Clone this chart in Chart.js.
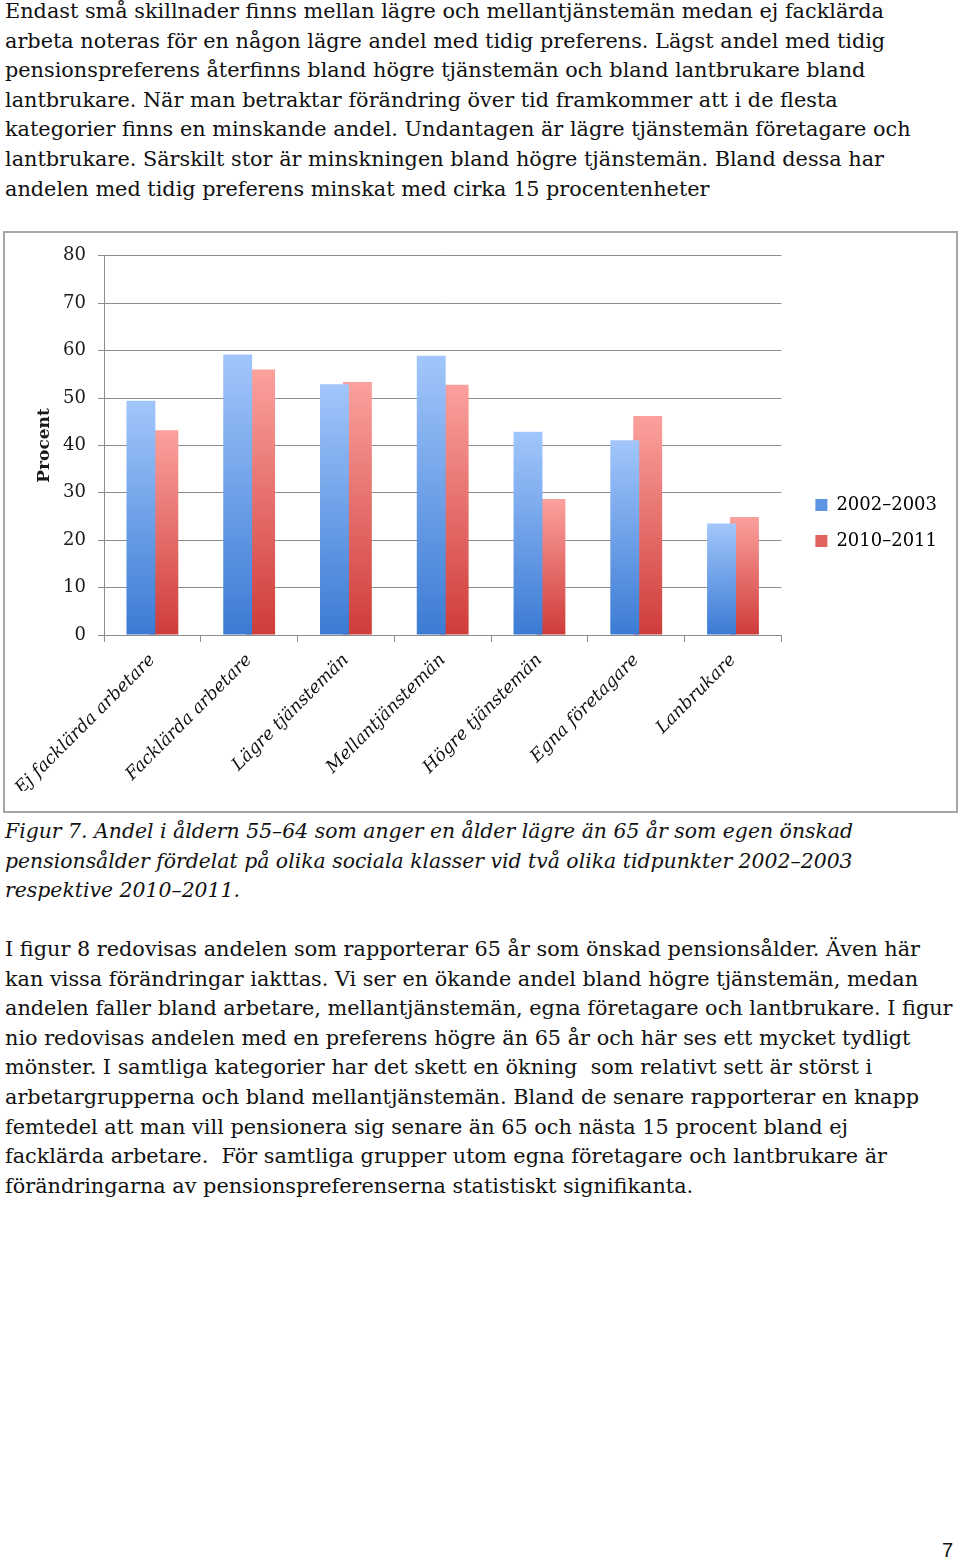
<!DOCTYPE html>
<html lang="sv">
<head>
<meta charset="utf-8">
<script src="https://cdn.jsdelivr.net/npm/chart.js@4"></script>
<style>
  html, body { margin: 0; padding: 0; background: #fff; }
  body { width: 960px; height: 1561px; position: relative; overflow: hidden; color: #111; }
  .txt { position: absolute; left: 5px; font-family: 'DejaVu Serif', 'Liberation Serif', serif;
         font-size: 20.8px; line-height: 29.6px; white-space: nowrap; }
  .cap { font-style: italic; font-size: 20.4px; }
  #box { position: absolute; left: 3px; top: 231px; width: 951px; height: 578px;
         border: 2px solid #a6a6a6; }
  #wrap { position: absolute; left: 0; top: 0; width: 951px; height: 578px; }
  #pno { position: absolute; left: 942px; top: 1539px; font-family: 'Liberation Sans', Arial, sans-serif; font-size: 20px; }
</style>
</head>
<body>

<div class="txt" style="top:-3px">
  <div>Endast små skillnader finns mellan lägre och mellantjänstemän medan ej facklärda</div>
  <div>arbeta noteras för en någon lägre andel med tidig preferens. Lägst andel med tidig</div>
  <div>pensionspreferens återfinns bland högre tjänstemän och bland lantbrukare bland</div>
  <div>lantbrukare. När man betraktar förändring över tid framkommer att i de flesta</div>
  <div>kategorier finns en minskande andel. Undantagen är lägre tjänstemän företagare och</div>
  <div>lantbrukare. Särskilt stor är minskningen bland högre tjänstemän. Bland dessa har</div>
  <div>andelen med tidig preferens minskat med cirka 15 procentenheter</div>
</div>

<div id="box"><div id="wrap"><canvas id="chart"></canvas></div></div>

<div class="txt cap" style="top:817px">
  <div>Figur 7. Andel i åldern 55–64 som anger en ålder lägre än 65 år som egen önskad</div>
  <div>pensionsålder fördelat på olika sociala klasser vid två olika tidpunkter 2002–2003</div>
  <div>respektive 2010–2011.</div>
</div>

<div class="txt" style="top:935px">
  <div>I figur 8 redovisas andelen som rapporterar 65 år som önskad pensionsålder. Även här</div>
  <div>kan vissa förändringar iakttas. Vi ser en ökande andel bland högre tjänstemän, medan</div>
  <div>andelen faller bland arbetare, mellantjänstemän, egna företagare och lantbrukare. I figur</div>
  <div>nio redovisas andelen med en preferens högre än 65 år och här ses ett mycket tydligt</div>
  <div>mönster. I samtliga kategorier har det skett en ökning&nbsp; som relativt sett är störst i</div>
  <div>arbetargrupperna och bland mellantjänstemän. Bland de senare rapporterar en knapp</div>
  <div>femtedel att man vill pensionera sig senare än 65 och nästa 15 procent bland ej</div>
  <div>facklärda arbetare.&nbsp; För samtliga grupper utom egna företagare och lantbrukare är</div>
  <div>förändringarna av pensionspreferenserna statistiskt signifikanta.</div>
</div>

<div id="pno">7</div>

<script>
// kategorier och värden (procent)
const categories = ['Ej facklärda arbetare', 'Facklärda arbetare', 'Lägre tjänstemän',
  'Mellantjänstemän', 'Högre tjänstemän', 'Egna företagare', 'Lanbrukare'];
const seriesLabels = ['2002–2003', '2010–2011'];
const values2002 = [49.4, 59.2, 52.9, 58.9, 42.9, 41.1, 23.5];
const values2010 = [43.2, 56.0, 53.4, 52.8, 28.7, 46.2, 24.9];
const yTicks = [0, 10, 20, 30, 40, 50, 60, 70, 80];

Chart.defaults.font.family = "'DejaVu Serif', 'Liberation Serif', serif";
Chart.defaults.color = '#1a1a1a';

const gridColor = '#8c8c8c';

// gradient per stapel, ljus upptill och mörk nertill
function barFill(light, dark) {
  return ctx => {
    const chart = ctx.chart;
    if (ctx.type !== 'data' || !chart.chartArea) return dark;
    const y = chart.scales.y;
    const top = y.getPixelForValue(ctx.raw);
    const bottom = y.getPixelForValue(0);
    const g = chart.ctx.createLinearGradient(0, top, 0, bottom);
    g.addColorStop(0, light);
    g.addColorStop(1, dark);
    return g;
  };
}

const legendSolid = ['#5d95e4', '#e2625f'];

new Chart(document.getElementById('chart'), {
  type: 'bar',
  data: {
    labels: categories,
    datasets: [
      { label: seriesLabels[0], data: values2002, backgroundColor: barFill('#a2c6fb', '#3b7bd4'),
        barPercentage: 1.26, categoryPercentage: 0.474 },
      { label: seriesLabels[1], data: values2010, backgroundColor: barFill('#fba19d', '#cf3c39'),
        barPercentage: 1.26, categoryPercentage: 0.474 }
    ]
  },
  options: {
    responsive: true,
    maintainAspectRatio: false,
    animation: false,
    layout: { padding: { top: 22, right: 9, bottom: 20, left: 0 } },
    plugins: {
      tooltip: { enabled: false },
      legend: {
        position: 'right',
        labels: {
          boxWidth: 12, boxHeight: 12, padding: 18,
          font: { size: 18 }, color: '#1a1a1a',
          generateLabels: chart => chart.data.datasets.map((ds, i) => ({
            text: ds.label, fillStyle: legendSolid[i], strokeStyle: legendSolid[i],
            lineWidth: 0, datasetIndex: i, hidden: false
          }))
        }
      }
    },
    scales: {
      x: {
        grid: { drawOnChartArea: false, color: gridColor, tickLength: 7, offset: true },
        border: { color: gridColor },
        ticks: { minRotation: 45, maxRotation: 45, autoSkip: false, padding: 8,
                 font: { size: 17.5, style: 'italic' }, color: '#111' },
        afterFit: s => { s.height = 156; s.paddingLeft = 0; s.paddingRight = 0; }
      },
      y: {
        min: 0, max: 80,
        afterBuildTicks: s => { s.ticks = yTicks.map(v => ({ value: v })); },
        grid: { color: gridColor, tickLength: 6 },
        border: { color: gridColor },
        ticks: { font: { size: 18 }, padding: 12, color: '#1a1a1a' },
        title: { display: true, text: 'Procent', font: { size: 17, weight: 'bold' }, color: '#1a1a1a',
                 padding: { top: 29, bottom: 0 } },
        afterFit: s => { s.width = 99; }
      },
      pad: {
        type: 'linear', position: 'right', display: true,
        grid: { display: false }, border: { display: false }, ticks: { display: false },
        afterFit: s => { s.width = 16; }
      }
    }
  }
});
</script>
</body>
</html>
